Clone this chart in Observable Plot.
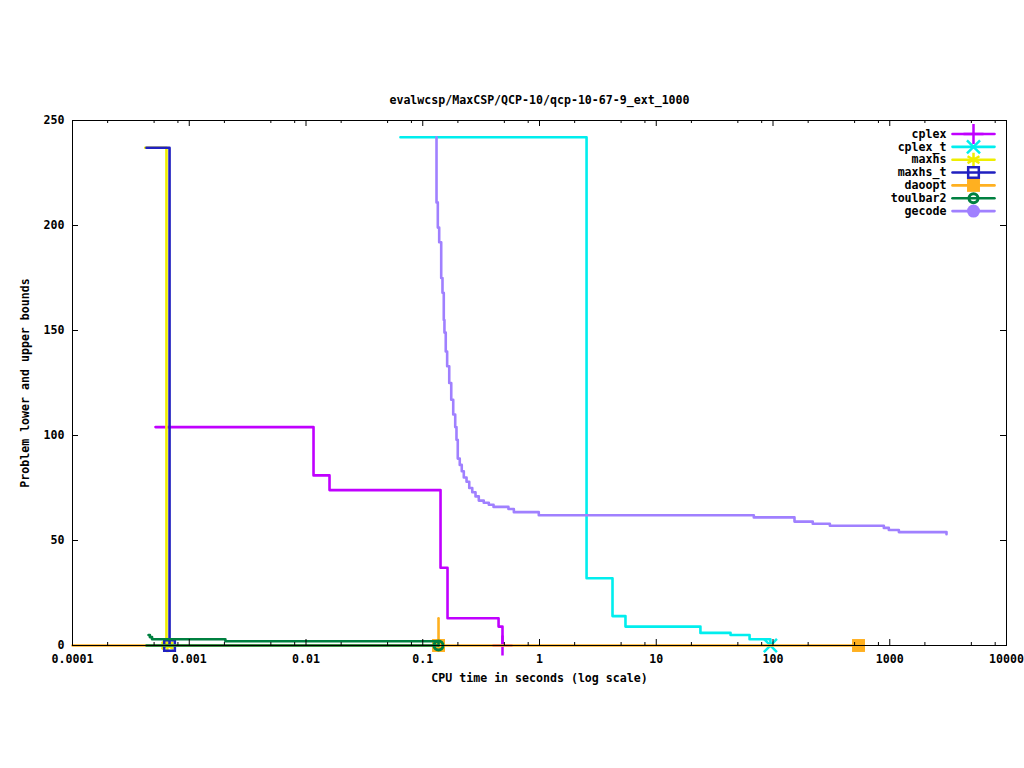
<!DOCTYPE html>
<html><head><meta charset="utf-8">
<script src="https://cdn.jsdelivr.net/npm/d3@7"></script>
<script src="https://cdn.jsdelivr.net/npm/@observablehq/plot@0.6"></script>
<style>html,body{margin:0;padding:0;background:#fff;overflow:hidden}</style>
</head><body><div id="chart"></div>
<script>
const title = "evalwcsp/MaxCSP/QCP-10/qcp-10-67-9_ext_1000";
const xLabel = "CPU time in seconds (log scale)";
const yLabel = "Problem lower and upper bounds";
const xTicks = [0.0001, 0.001, 0.01, 0.1, 1, 10, 100, 1000, 10000];
const xMinorTicks = [0.0002, 0.0005, 0.0008, 0.002, 0.005, 0.008, 0.02, 0.05, 0.08, 0.2, 0.5, 0.8, 2, 5, 8, 20, 50, 80, 200, 500, 800, 2000, 5000, 8000];
const yTicks = [0, 50, 100, 150, 200, 250];

const seriesNames = ["cplex", "cplex_t", "maxhs", "maxhs_t", "daoopt", "toulbar2", "gecode"];
const seriesColors = ["#c000ff", "#00eeee", "#eeee00", "#2020c0", "#ffb020", "#008040", "#a080ff"];
const seriesSymbols = ["plus", "times", "asterisk", "square", "square", "circle", "circle"];

// upper bound step curves
const cplexTime = [0.000514, 0.0116, 0.0159, 0.142, 0.163, 0.446, 0.482];
const cplexBound = [104, 81, 74, 37, 13, 9, 0];
const cplexTTime = [0.0644, 2.53, 4.22, 5.45, 23.9, 43.3, 63, 95];
const cplexTBound = [242, 32, 14, 9, 6, 5, 3, 0];
const maxhsTime = [0.00042, 0.000638];
const maxhsBound = [237, 0];
const maxhsTTime = [0.00043, 0.000678];
const maxhsTBound = [237, 0];
const daooptTime = [0.1365, 0.1365];
const daooptBound = [13, 0];
const toulbar2Time = [0.000448, 0.00046, 0.00048, 0.00204, 0.1365];
const toulbar2Bound = [5, 4, 3, 2, 0];
const gecodeTime = [0.1310, 0.1312, 0.1346, 0.1383, 0.1439, 0.1476, 0.1514, 0.1534, 0.1574, 0.1618, 0.1686, 0.1754, 0.1824, 0.1897, 0.1945, 0.1995, 0.2075, 0.2158, 0.2247, 0.2372, 0.2502, 0.2655, 0.2831, 0.302, 0.333, 0.368, 0.404, 0.542, 0.603, 0.986, 68.5, 152.8, 219, 307, 890, 982, 1197, 3063];
const gecodeBound = [242, 211, 199, 192, 175, 168, 155, 149, 140, 133, 125, 117, 110, 104, 98, 89, 86, 83, 80, 78, 75, 73, 71, 69, 68, 67, 66, 65, 63.5, 62, 61, 59, 58, 57, 56, 55, 54, 53];

// lower bound curves
const daooptLowerTime = [0.0001, 540];
const daooptLowerBound = [0, 0];
const toulbar2LowerTime = [0.00043, 0.1365];
const toulbar2LowerBound = [0, 0];

// end markers
const markerSeries = ["cplex", "cplex_t", "maxhs", "maxhs_t", "daoopt", "daoopt", "toulbar2"];
const markerTime = [0.482, 95, 0.00065, 0.000678, 0.1365, 540, 0.1365];
const markerBound = [0, 0, 0, 0, 0, 0, 0];

const rows = (t, b) => t.map((x, i) => ({x, y: b[i]}));
const color = Object.fromEntries(seriesNames.map((n, i) => [n, seriesColors[i]]));
const symbolOf = Object.fromEntries(seriesNames.map((n, i) => [n, seriesSymbols[i]]));
const dotStyle = {
  cplex: {r: 6.5, fill: "none", strokeWidth: 2.5},
  cplex_t: {r: 6, fill: "none", strokeWidth: 2.5},
  maxhs: {r: 6.5, fill: "none", strokeWidth: 2.5},
  maxhs_t: {r: 6, fill: "none", strokeWidth: 2.5},
  daoopt: {r: 7.3, fill: "fill", strokeWidth: 0},
  toulbar2: {r: 4.5, fill: "none", strokeWidth: 3},
  gecode: {r: 6.5, fill: "fill", strokeWidth: 0}
};
function dotOpts(name, extra) {
  const s = dotStyle[name];
  const o = {symbol: symbolOf[name], r: s.r, stroke: color[name], strokeWidth: s.strokeWidth, fill: s.fill === "fill" ? color[name] : "none", ...extra};
  if (s.strokeWidth === 0) o.stroke = "none";
  return o;
}

const upper = {
  cplex: rows(cplexTime, cplexBound),
  cplex_t: rows(cplexTTime, cplexTBound),
  maxhs: rows(maxhsTime, maxhsBound),
  maxhs_t: rows(maxhsTTime, maxhsTBound),
  daoopt: rows(daooptTime, daooptBound),
  toulbar2: rows(toulbar2Time, toulbar2Bound),
  gecode: rows(gecodeTime, gecodeBound)
};
const lower = {
  daoopt: rows(daooptLowerTime, daooptLowerBound),
  toulbar2: rows(toulbar2LowerTime, toulbar2LowerBound)
};
const markers = markerSeries.map((s, i) => ({s, x: markerTime[i], y: markerBound[i]}));

const W = 1024, H = 768, mL = 72, mR = 18, mT = 120, mB = 123;
const fw = W - mL - mR, fh = H - mT - mB;
const LW = 2.6;

const marks = [];
for (const name of seriesNames) {
  if (lower[name]) marks.push(Plot.line(lower[name], {x: "x", y: "y", stroke: color[name], strokeWidth: LW, curve: "step-after"}));
  marks.push(Plot.line(upper[name], {x: "x", y: "y", stroke: color[name], strokeWidth: LW, curve: "step-after"}));
  const ms = markers.filter(m => m.s === name);
  if (ms.length) marks.push(Plot.dot(ms, dotOpts(name, {x: "x", y: "y"})));
}

// ticks (inward, mirrored)
marks.push(
  Plot.ruleX(xTicks, {stroke: "black", insetTop: fh - 6}),
  Plot.ruleX(xTicks, {stroke: "black", insetBottom: fh - 6}),
  Plot.ruleX(xMinorTicks, {stroke: "black", insetTop: fh - 3}),
  Plot.ruleX(xMinorTicks, {stroke: "black", insetBottom: fh - 3}),
  Plot.ruleY(yTicks, {stroke: "black", insetRight: fw - 6}),
  Plot.ruleY(yTicks, {stroke: "black", insetLeft: fw - 6}),
  Plot.frame({stroke: "black", strokeWidth: 1}),
  Plot.axisX({ticks: xTicks, tickSize: 0, tickPadding: 9, tickFormat: d => String(d), label: null, fill: "black"}),
  Plot.axisY({ticks: yTicks, tickSize: 0, tickPadding: 8, tickFormat: d => String(d), label: null, fill: "black"}),
  Plot.text([title], {frameAnchor: "top", dy: -20, lineAnchor: "middle", textAnchor: "middle", fill: "black"}),
  Plot.text([xLabel], {frameAnchor: "bottom", dy: 33, lineAnchor: "middle", textAnchor: "middle", fill: "black"}),
  Plot.text([yLabel], {frameAnchor: "left", dx: -47, rotate: -90, lineAnchor: "middle", textAnchor: "middle", fill: "black"})
);

// legend
const lineShape = {draw(ctx, l) { ctx.moveTo(0, 0); ctx.lineTo(0, -l); }};
seriesNames.forEach((name, i) => {
  const dy = 13.5 + i * 12.85;
  marks.push(
    Plot.text([name], {frameAnchor: "top-right", dx: -60, dy, textAnchor: "end", lineAnchor: "middle", fill: "black"}),
    Plot.vector([0], {frameAnchor: "top-right", dx: -12, dy, length: 42, rotate: -90, anchor: "start", shape: lineShape, stroke: color[name], strokeWidth: LW}),
    Plot.dot([0], dotOpts(name, {frameAnchor: "top-right", dx: -33, dy}))
  );
});

const chart = Plot.plot({
  width: W, height: H,
  marginLeft: mL, marginRight: mR, marginTop: mT, marginBottom: mB,
  style: {fontFamily: "DejaVu Sans Mono", fontSize: "11.6px", fontWeight: "bold", background: "white", color: "black"},
  x: {type: "log", domain: [0.0001, 10000], axis: null},
  y: {type: "linear", domain: [0, 250], axis: null},
  marks
});
document.getElementById("chart").appendChild(chart);
</script>
</body></html>
